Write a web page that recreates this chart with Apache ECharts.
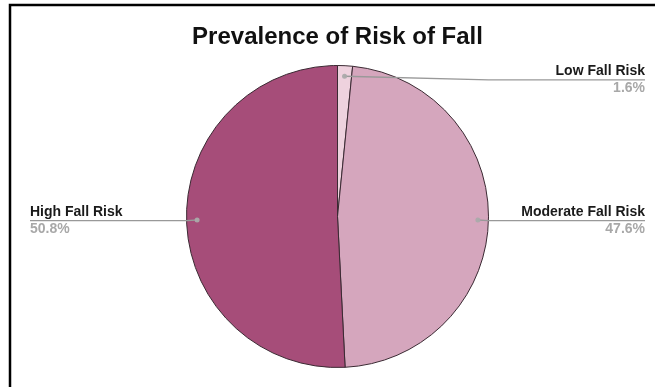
<!DOCTYPE html>
<html>
<head>
<meta charset="utf-8">
<script src="https://cdn.jsdelivr.net/npm/echarts@6/dist/echarts.min.js"></script>
<style>
  html, body { margin: 0; padding: 0; background: #ffffff; }
  #chart { width: 655px; height: 387px; }
</style>
</head>
<body>
<div id="chart"></div>
<script>
// Share of patients in each fall-risk group (percent)
const categories = ['Low Fall Risk', 'Moderate Fall Risk', 'High Fall Risk'];
const shares = [1.6, 47.6, 50.8];
const sliceColors = ['#eed2de', '#d5a6bd', '#a64d79'];

const FONT = '"Liberation Sans", Arial, Helvetica, sans-serif';
const W = 655;
const PIE_LEFT = 20;                       // series box starts here, runs to the right edge
const CX = PIE_LEFT + (W - PIE_LEFT) / 2;  // pie centre x
const CY = 216.5;                          // pie centre y
const R = 151;                             // pie radius
const DOT_RATIO = 0.93;                    // leader lines start just inside the slice edge

// Anchor dots: one per slice, at the middle angle of the slice
const total = shares.reduce((a, b) => a + b, 0);
let running = 0;
const anchorDots = shares.map(v => {
  const mid = (running + v / 2) / total * 100;
  running += v;
  return [DOT_RATIO, mid];
});

const pieData = categories.map((name, i) => ({ name: name, value: shares[i] }));

// Shared geometry for the filled pie and the label overlay
const pieBase = {
  type: 'pie',
  left: PIE_LEFT,
  right: 0,
  top: 0,
  bottom: 0,
  center: ['50%', CY],
  radius: R,
  startAngle: 90,
  clockwise: true,
  emphasis: { disabled: true }
};

const chart = echarts.init(document.getElementById('chart'), null, { renderer: 'canvas' });

chart.setOption({
  backgroundColor: '#ffffff',
  animation: false,
  title: {
    text: 'Prevalence of Risk of Fall',
    left: CX,
    top: 25,
    padding: 0,
    textAlign: 'center',
    textStyle: { fontFamily: FONT, fontSize: 24, fontWeight: 'bold', color: '#111111' }
  },
  graphic: [{
    type: 'polyline',
    silent: true,
    shape: { points: [[10, 387], [10, 5], [655, 5]] },
    style: { stroke: '#000000', lineWidth: 2.5, fill: null }
  }],
  polar: { center: [CX, CY], radius: R },
  angleAxis: {
    type: 'value', min: 0, max: 100, startAngle: 90, clockwise: true,
    axisLine: { show: false }, axisTick: { show: false }, axisLabel: { show: false }, splitLine: { show: false }
  },
  radiusAxis: {
    type: 'value', min: 0, max: 1,
    axisLine: { show: false }, axisTick: { show: false }, axisLabel: { show: false }, splitLine: { show: false }
  },
  series: [
    // filled slices
    Object.assign({}, pieBase, {
      z: 2,
      itemStyle: { borderColor: '#3b2a33', borderWidth: 1 },
      label: { show: false },
      labelLine: { show: false },
      data: pieData.map((d, i) => ({ name: d.name, value: d.value, itemStyle: { color: sliceColors[i] } }))
    }),
    // transparent overlay carrying labels and leader lines above the slices
    Object.assign({}, pieBase, {
      z: 3,
      silent: true,
      itemStyle: { color: 'rgba(0,0,0,0)', borderWidth: 0 },
      label: {
        show: true,
        position: 'outside',
        alignTo: 'edge',
        edgeDistance: 10,
        formatter: p => '{n|' + p.name + '}\n{p|' + p.value.toFixed(1) + '%}',
        rich: {
          n: { fontFamily: FONT, fontSize: 14, fontWeight: 'bold', color: '#1a1a1a', lineHeight: 17 },
          p: { fontFamily: FONT, fontSize: 14, fontWeight: 'bold', color: '#a8a8a8', lineHeight: 17 }
        }
      },
      labelLine: {
        show: true,
        length: 12,
        length2: 10,
        smooth: false,
        lineStyle: { color: '#999999', width: 1.4 }
      },
      labelLayout: function (p) {
        const pts = p.labelLinePoints;
        const rect = p.labelRect;
        if (!pts) return {};
        const onLeft = rect.x + rect.width / 2 < CX;
        let lineY = rect.y + rect.height / 2;
        // keep labels within the pie's vertical span
        const ceiling = CY - R * 0.905;
        const moved = lineY < ceiling;
        if (moved) lineY = ceiling;
        const sx = CX + (pts[0][0] - CX) * DOT_RATIO;
        const sy = CY + (pts[0][1] - CY) * DOT_RATIO;
        const bendX = onLeft ? CX - R : CX + R;
        const farX = onLeft ? rect.x : rect.x + rect.width;
        const out = { labelLinePoints: [[sx, sy], [bendX, lineY], [farX, lineY]] };
        if (moved) { out.y = lineY; out.verticalAlign = 'middle'; }
        return out;
      },
      data: pieData
    }),
    {
      type: 'scatter',
      coordinateSystem: 'polar',
      symbol: 'circle',
      symbolSize: 5,
      silent: true,
      z: 5,
      itemStyle: { color: '#aaaaaa', opacity: 0.95 },
      data: anchorDots
    }
  ]
});
</script>
</body>
</html>
